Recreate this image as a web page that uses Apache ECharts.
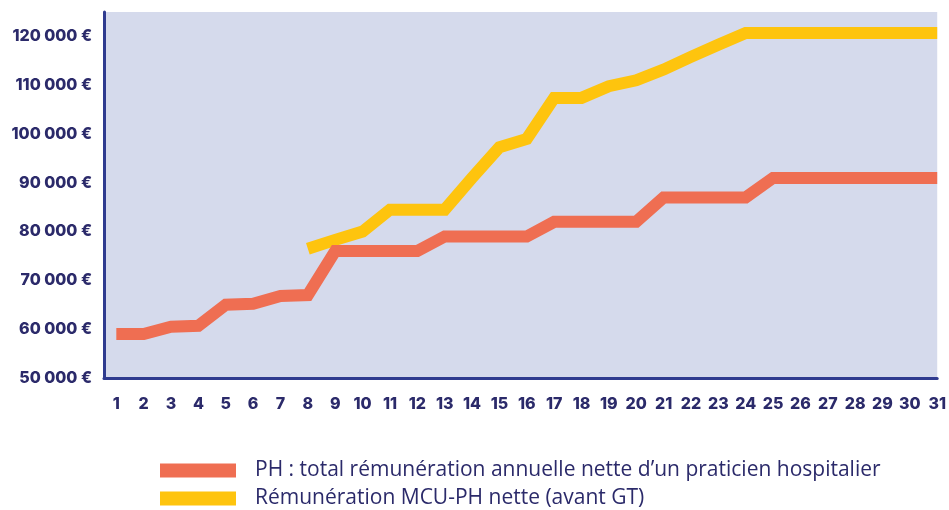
<!DOCTYPE html>
<html>
<head>
<meta charset="utf-8">
<script src="https://cdn.jsdelivr.net/npm/echarts@6/dist/echarts.min.js"></script>
<style>html,body{margin:0;padding:0;background:#fff}#c{width:949px;height:510px}</style>
</head>
<body>
<div id="c"></div>
<script>
// Years of seniority (x categories)
var years = [1,2,3,4,5,6,7,8,9,10,11,12,13,14,15,16,17,18,19,20,21,22,23,24,25,26,27,28,29,30,31];
// PH : total rémunération annuelle nette
var phValues = [59000,59000,60500,60700,65000,65200,66800,67000,76000,76000,76000,76000,79000,79000,79000,79000,82000,82000,82000,82000,87000,87000,87000,87000,91000,91000,91000,91000,91000,91000,91000];
// Rémunération MCU-PH nette (avant GT)
var mcuValues = [null,null,null,null,null,null,null,76500,78300,80000,84500,84500,84500,91000,97300,99000,107400,107400,109800,111000,113200,115800,118300,120700,120700,120700,120700,120700,120700,120700,120700];
var seriesNames = ["PH : total rémunération annuelle nette d’un praticien hospitalier", "Rémunération MCU-PH nette (avant GT)"];
var yTicks = [50000,60000,70000,80000,90000,100000,110000,120000];

function pairs(vals){
  var out = [];
  for (var i = 0; i < years.length; i++) { if (vals[i] != null) out.push([years[i], vals[i]]); }
  return out;
}
function fmt(v){
  var s = String(v);
  return s.replace(/\B(?=(\d{3})+(?!\d))/g, ' ') + ' €';
}
var navy = '#2b2a6a';
function legendFor(name, top){
  return {
    orient: 'vertical', left: 160, top: top, padding: 0, itemWidth: 76, itemHeight: 14,
    icon: 'rect',
    textStyle: {color: navy, fontFamily: 'Open Sans', fontSize: 21, padding: [0,0,0,14]},
    data: [name]
  };
}
var chart = echarts.init(document.getElementById('c'), null, {renderer:'canvas'});
chart.setOption({
  animation: false,
  backgroundColor: '#ffffff',
  grid: {left: 104, right: 9, top: 12, bottom: 132, show: true, backgroundColor: '#d5daec', borderWidth: 0, containLabel: false},
  xAxis: {
    type: 'value', min: 0.55, max: 31,
    axisLine: {show: true, lineStyle: {color: '#2f3b8f', width: 3}},
    axisTick: {show: false},
    splitLine: {show: false},
    axisLabel: {customValues: years, formatter: function(v){ return String(v); }, color: navy, fontFamily: 'Inter', fontWeight: 800, fontSize: 16, margin: 18, hideOverlap: false}
  },
  yAxis: {
    type: 'value', min: 50000, max: 125000,
    axisLine: {show: true, lineStyle: {color: '#2f3b8f', width: 3}},
    axisTick: {show: false},
    splitLine: {show: false},
    axisLabel: {customValues: yTicks, formatter: fmt, color: navy, fontFamily: 'Inter', fontWeight: 800, fontSize: 16, margin: 12}
  },
  legend: [legendFor(seriesNames[0], 460), legendFor(seriesNames[1], 488)],
  series: [
    {name: seriesNames[0], type: 'line', data: pairs(phValues), showSymbol: false, symbol: 'none', color: '#ef6e52',
     lineStyle: {width: 12, color: '#ef6e52', cap: 'butt', join: 'miter'}, z: 3},
    {name: seriesNames[1], type: 'line', data: pairs(mcuValues), showSymbol: false, symbol: 'none', color: '#fec40e',
     lineStyle: {width: 12, color: '#fec40e', cap: 'butt', join: 'miter'}, z: 2}
  ]
});
</script>
</body>
</html>
